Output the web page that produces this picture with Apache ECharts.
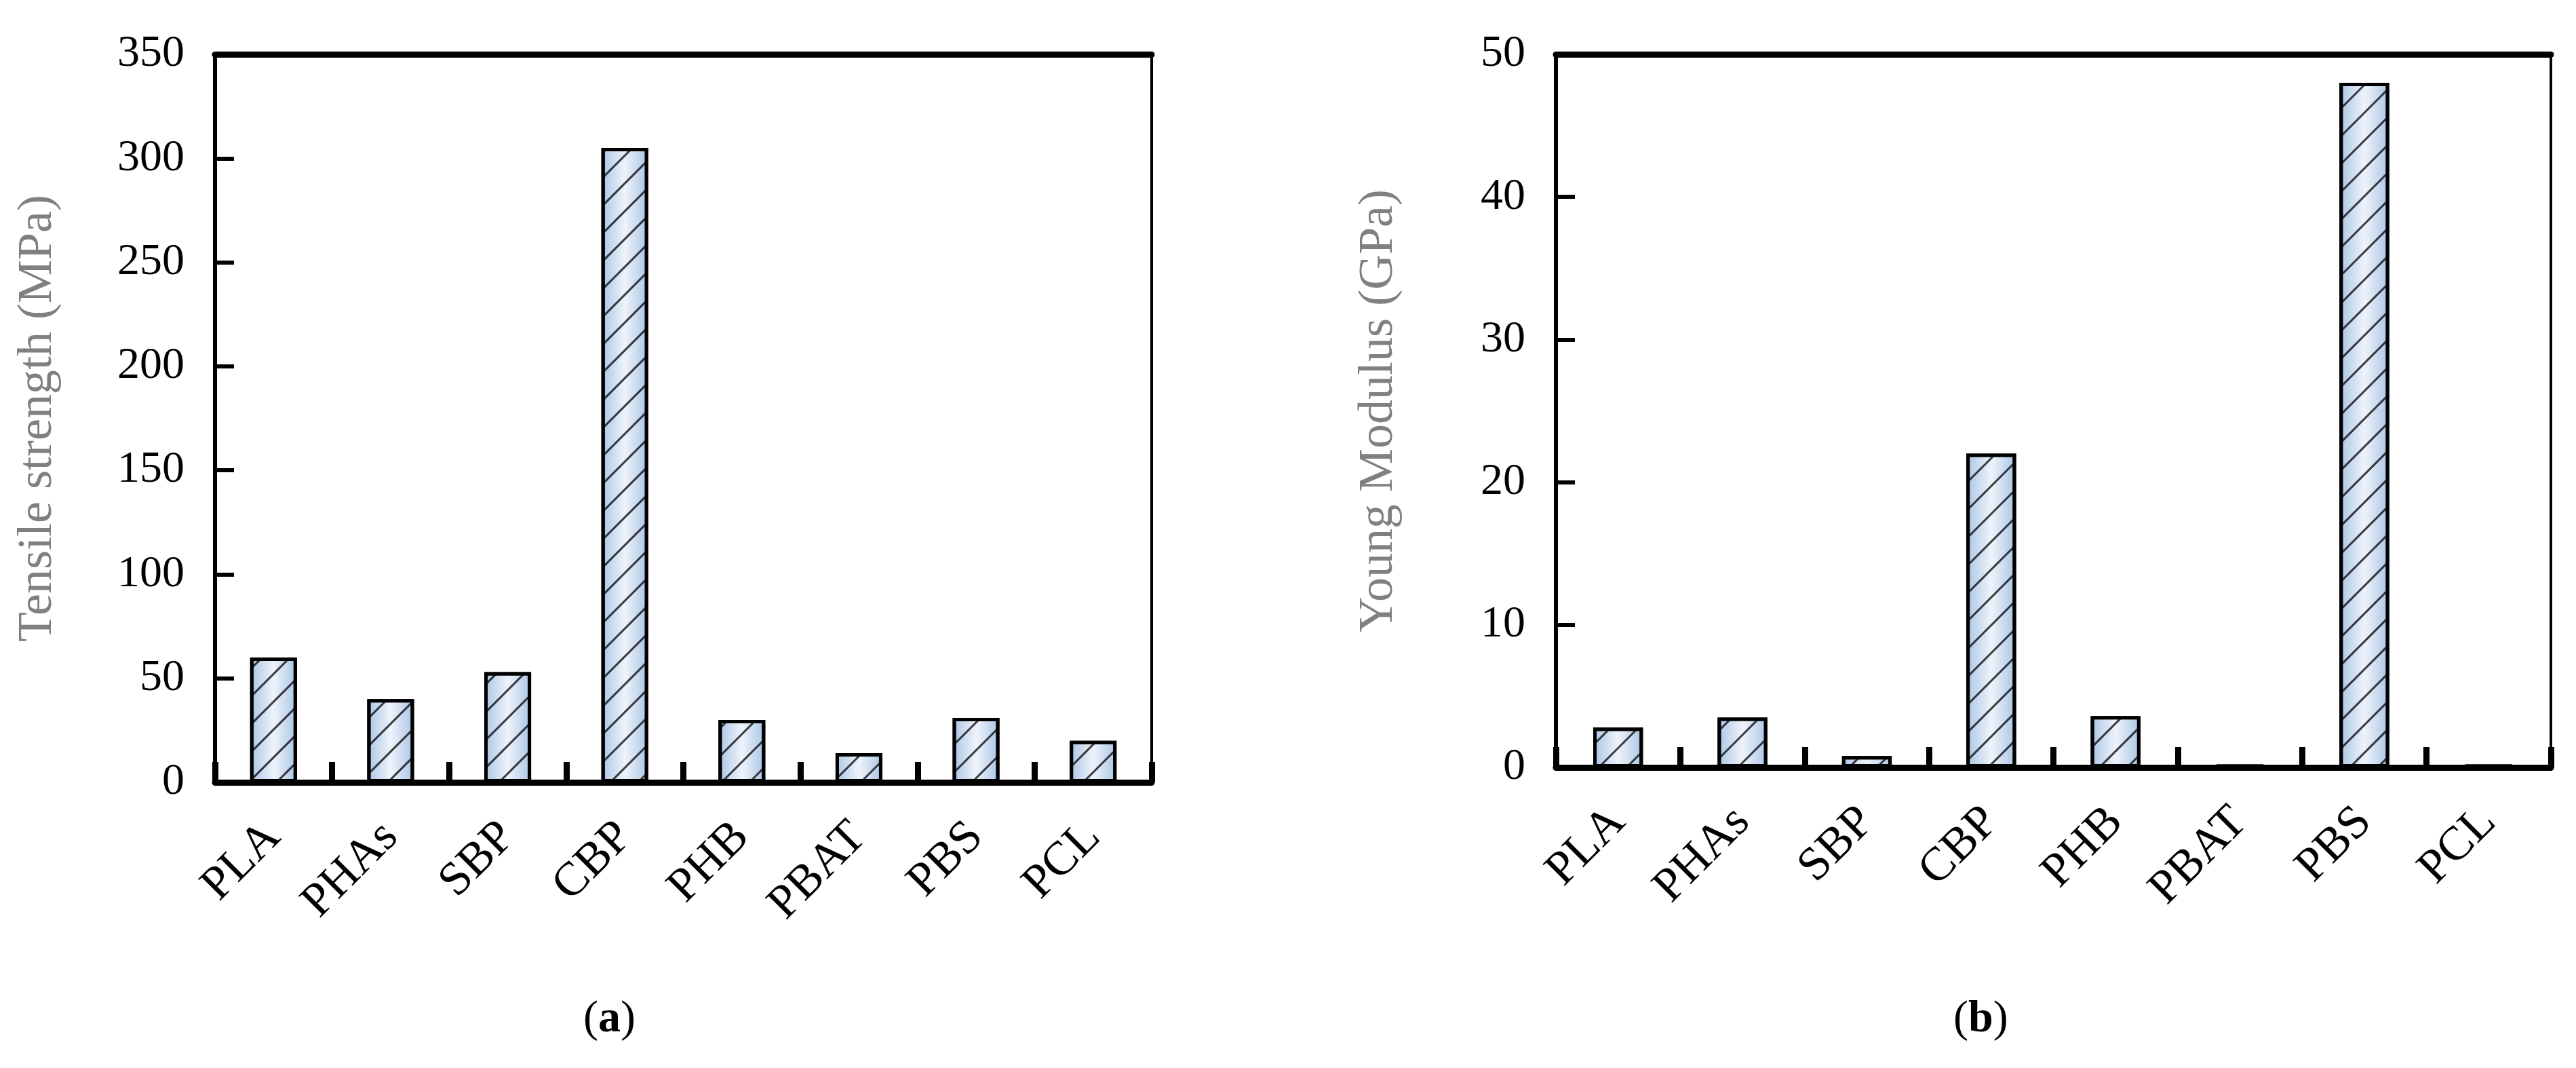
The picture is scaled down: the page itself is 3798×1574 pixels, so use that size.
<!DOCTYPE html>
<html>
<head>
<meta charset="utf-8">
<script src="https://cdn.jsdelivr.net/npm/echarts@6/dist/echarts.min.js"></script>
<style>html,body{margin:0;background:#fff}#main{width:3798px;height:1574px}</style>
</head>
<body>
<div id="main"></div>
<script>
var categories = ['PLA', 'PHAs', 'SBP', 'CBP', 'PHB', 'PBAT', 'PBS', 'PCL'];
var tensile = [60, 40, 53, 305, 30, 14, 31, 20];
var modulus = [2.8, 3.5, 0.8, 22, 3.6, 0.2, 48, 0.2];

var chart = echarts.init(document.getElementById('main'));
var font = 'Liberation Serif';

// bar fill: light blue gradient with diagonal hatch
var barStyle = {
    color: {
        type: 'linear', x: 0, y: 0, x2: 1, y2: 0,
        colorStops: [{offset: 0, color: '#a9c4e6'}, {offset: 0.5, color: '#eef3fa'}, {offset: 1, color: '#a9c4e6'}]
    },
    borderColor: '#000',
    borderWidth: 5,
    decal: {
        symbol: 'rect',
        color: 'rgba(0,0,0,0.75)',
        dashArrayX: [1, 0],
        dashArrayY: [3, 26],
        rotation: -Math.PI / 4,
        symbolSize: 1
    }
};

function xAxis(idx) {
    return {
        type: 'category', gridIndex: idx, data: categories, z: 10,
        axisLine: {onZero: false, lineStyle: {color: '#000', width: 9}},
        axisTick: {show: true, interval: 0, inside: true, length: 30, lineStyle: {color: '#000', width: 9}},
        axisLabel: {rotate: 45, margin: 70, fontFamily: font, fontSize: 70, color: '#000'}
    };
}
function yAxis(idx, max, interval, name) {
    return {
        type: 'value', gridIndex: idx, min: 0, max: max, interval: interval,
        name: name, nameLocation: 'middle', nameGap: 225,
        nameTextStyle: {fontFamily: font, fontSize: 72, color: '#808080'},
        axisLine: {show: true, lineStyle: {color: '#000', width: 6}},
        axisTick: {show: true, inside: true, length: 28, lineStyle: {color: '#000', width: 6}},
        axisLabel: {fontFamily: font, fontSize: 66, color: '#000', margin: 45},
        splitLine: {show: false}
    };
}
// top and right borders
function topAxis(idx) {
    return {type: 'category', gridIndex: idx, position: 'top', data: categories,
        axisLine: {show: true, onZero: false, lineStyle: {color: '#000', width: 9}},
        axisTick: {show: false}, axisLabel: {show: false}};
}
function rightAxis(idx, max) {
    return {type: 'value', gridIndex: idx, position: 'right', min: 0, max: max,
        axisLine: {show: true, onZero: false, lineStyle: {color: '#000', width: 4}}, axisTick: {show: false},
        axisLabel: {show: false}, splitLine: {show: false}};
}

chart.setOption({
    animation: false,
    grid: [
        {left: 317, top: 80, width: 1381, height: 1073},
        {left: 2294, top: 80, width: 1467, height: 1051}
    ],
    xAxis: [xAxis(0), xAxis(1), topAxis(0), topAxis(1)],
    yAxis: [yAxis(0, 350, 50, 'Tensile strength (MPa)'), yAxis(1, 50, 10, 'Young Modulus (GPa)'),
        rightAxis(0, 350), rightAxis(1, 50)],
    series: [
        {type: 'bar', xAxisIndex: 0, yAxisIndex: 0, data: tensile, barWidth: '40%', itemStyle: barStyle},
        {type: 'bar', xAxisIndex: 1, yAxisIndex: 1, data: modulus, barWidth: '40%', itemStyle: barStyle}
    ],
    graphic: [
        {type: 'text', left: 860, top: 1470, style: {text: '({a|a})', fontFamily: font, fontSize: 66, fill: '#000',
            rich: {a: {fontFamily: font, fontSize: 66, fontWeight: 'bold'}}}},
        {type: 'text', left: 2880, top: 1470, style: {text: '({a|b})', fontFamily: font, fontSize: 66, fill: '#000',
            rich: {a: {fontFamily: font, fontSize: 66, fontWeight: 'bold'}}}}
    ]
});
</script>
</body>
</html>
